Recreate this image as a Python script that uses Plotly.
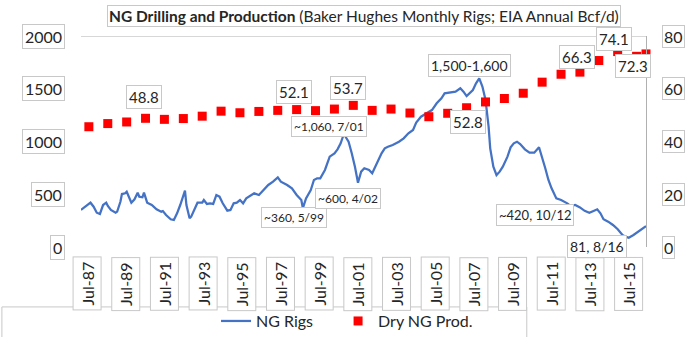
import plotly.graph_objects as go
import pandas as pd

# ---------------- data ----------------
rig_months = [
    "1987-08", "1987-12", "1988-02", "1988-04", "1988-06", "1988-08", "1988-10", "1988-12",
    "1989-01", "1989-03", "1989-06", "1989-07", "1989-09", "1989-10", "1989-12", "1990-01",
    "1990-04", "1990-06", "1990-08", "1990-09", "1990-11", "1990-12", "1991-02", "1991-05",
    "1991-08", "1991-11", "1991-12", "1992-02", "1992-05", "1992-07", "1992-09", "1992-11",
    "1993-02", "1993-03", "1993-05", "1993-06", "1993-08", "1993-10", "1994-01", "1994-02",
    "1994-04", "1994-06", "1994-08", "1994-10", "1994-12", "1995-02", "1995-05", "1995-07",
    "1995-09", "1995-11", "1996-01", "1996-03", "1996-05", "1996-07", "1996-10", "1997-01",
    "1997-04", "1997-07", "1997-10", "1998-01", "1998-03", "1998-07", "1998-10", "1999-01",
    "1999-04", "1999-05", "1999-07", "1999-10", "1999-12", "2000-02", "2000-04", "2000-07",
    "2000-10", "2001-01", "2001-03", "2001-05", "2001-07", "2001-10", "2001-12", "2002-02",
    "2002-04", "2002-06", "2002-08", "2002-11", "2003-01", "2003-03", "2003-05", "2003-07",
    "2003-09", "2003-11", "2004-02", "2004-06", "2004-09", "2004-12", "2005-03", "2005-05",
    "2005-08", "2005-12", "2006-03", "2006-06", "2006-09", "2006-11", "2007-02", "2007-06",
    "2007-09", "2007-11", "2008-01", "2008-03", "2008-05", "2008-07", "2008-09", "2008-11",
    "2009-01", "2009-03", "2009-04", "2009-06", "2009-08", "2009-10", "2009-12", "2010-03",
    "2010-05", "2010-07", "2010-09", "2010-11", "2011-02", "2011-05", "2011-08", "2011-11",
    "2012-01", "2012-03", "2012-05", "2012-07", "2012-10", "2013-01", "2013-05", "2013-07",
    "2013-10", "2014-01", "2014-04", "2014-07", "2014-10", "2014-12", "2015-02", "2015-04",
    "2015-07", "2015-10", "2016-01", "2016-04", "2016-06", "2016-08", "2016-11", "2017-02",
    "2017-06", "2017-07",
]
rig_counts = [
    351, 398, 420, 382, 325, 313, 398, 420,
    389, 351, 325, 335, 429, 502, 509, 524,
    420, 452, 515, 477, 471, 515, 420, 398,
    357, 335, 341, 303, 263, 256, 319, 398,
    534, 398, 272, 287, 351, 420, 420, 445,
    408, 414, 408, 493, 477, 414, 344, 351,
    414, 420, 445, 414, 461, 483, 509, 493,
    540, 588, 619, 660, 619, 588, 556, 493,
    445, 368, 461, 540, 635, 651, 651, 730,
    856, 888, 926, 983, 1071, 998, 888, 761,
    609, 714, 746, 730, 699, 761, 809, 888,
    935, 951, 967, 998, 1030, 1078, 1110, 1180,
    1235, 1267, 1298, 1362, 1410, 1457, 1464, 1473,
    1504, 1473, 1431, 1464, 1488, 1551, 1599, 1521,
    1393, 1140, 935, 761, 682, 714, 761, 856,
    945, 983, 998, 976, 926, 894, 894, 945,
    856, 746, 635, 556, 461, 445, 414, 390,
    398, 375, 343, 325, 344, 357, 319, 263,
    240, 209, 168, 114, 98, 88, 114, 145,
    192, 198,
]

prod_years = list(range(1987, 2018))
prod_bcfd = [
    45.6, 46.8, 47.4, 48.8, 48.4, 48.7, 49.6, 51.5, 50.9, 51.4,
    51.8, 52.1, 51.7, 52.3, 53.7, 51.8, 52.3, 50.8, 49.4, 50.7,
    52.8, 55.0, 56.3, 58.3, 62.5, 65.5, 66.3, 70.7, 74.1, 72.3,
    73.2,
]
# annual values plotted at year end (2017 is a partial year, plotted at the last month)
prod_dates = [f"{y}-12-31" for y in prod_years[:-1]] + ["2017-07-01"]

prod_labels = {1990: "48.8", 1998: "52.1", 2001: "53.7", 2007: "52.8",
               2013: "66.3", 2015: "74.1", 2016: "72.3"}

rig_notes = [
    ("1999-05", "~360, 5/99"),
    ("2002-04", "~600, 4/02"),
    ("2001-07", "~1,060, 7/01"),
    ("2008-09", "1,500-1,600"),
    ("2012-10", "~420, 10/12"),
    ("2016-08", "81, 8/16"),
]

x_tick_labels = ["Jul-87", "Jul-89", "Jul-91", "Jul-93", "Jul-95", "Jul-97", "Jul-99",
                 "Jul-01", "Jul-03", "Jul-05", "Jul-07", "Jul-09", "Jul-11", "Jul-13", "Jul-15"]
left_ticks = [0, 500, 1000, 1500, 2000]
right_ticks = [0, 20, 40, 60, 80]

# ---------------- styling ----------------
FONT = "Lato"
TXT = "#262626"
BOX = "#c8c8c8"
BLUE = "#4472C4"
RED = "#FF0000"

x_start = pd.Timestamp("1987-08-01")
x_end = pd.Timestamp("2017-07-01")

fig = go.Figure()
fig.add_trace(go.Scatter(
    x=[pd.Timestamp(m + "-01") for m in rig_months], y=rig_counts,
    mode="lines", name="NG Rigs", line=dict(color=BLUE, width=2.25),
    yaxis="y", legend="legend",
))
fig.add_trace(go.Scatter(
    x=pd.to_datetime(prod_dates), y=prod_bcfd, mode="markers", name="Dry NG Prod.",
    marker=dict(symbol="square", size=9, color=RED), yaxis="y2", cliponaxis=False,
    legend="legend2",
))

ann = []
# title
ann.append(dict(
    text="<b>NG Drilling and Production</b> (Baker Hughes Monthly Rigs; EIA Annual Bcf/d)",
    xref="paper", yref="paper", x=0.501, y=1.097, xanchor="center", yanchor="middle",
    showarrow=False, font=dict(family=FONT, size=15.5, color=TXT),
    bordercolor=BOX, borderwidth=1, borderpad=1, bgcolor="white"))

# y-axis labels (boxed)
for v in left_ticks:
    ann.append(dict(text=str(v), xref="paper", yref="y", x=-0.0283, y=v,
                    xanchor="right", yanchor="middle", showarrow=False,
                    font=dict(family=FONT, size=16, color=TXT),
                    bordercolor=BOX, borderwidth=1, borderpad=2, bgcolor="white"))
for v in right_ticks:
    ann.append(dict(text=str(v), xref="paper", yref="y2", x=1.0283, y=v,
                    xanchor="left", yanchor="middle", showarrow=False,
                    font=dict(family=FONT, size=16, color=TXT),
                    bordercolor=BOX, borderwidth=1, borderpad=1, bgcolor="white"))

# x-axis labels (boxed, rotated)
span = x_end - x_start
for k, lab in enumerate(x_tick_labels):
    xpos = x_start + span * (0.0115 + 0.06846 * k)
    ann.append(dict(text=lab, xref="x", yref="paper", x=xpos, y=-0.047,
                    xanchor="center", yanchor="top", textangle=-90, showarrow=False,
                    font=dict(family=FONT, size=16, color=TXT),
                    bordercolor=BOX, borderwidth=1, borderpad=4, bgcolor="white"))

# production data labels
prod_shift = {1990: (-2, 21), 1998: (-3, 18), 2001: (-5, 17), 2007: (1, -14),
              2013: (-3, 15), 2015: (-4, 13), 2016: (-4, -10)}
for y, d, v in zip(prod_years, prod_dates, prod_bcfd):
    if y in prod_labels:
        dx, dy = prod_shift[y]
        ann.append(dict(text=prod_labels[y], xref="x", yref="y2", x=pd.Timestamp(d), y=v,
                        xshift=dx, yshift=dy, showarrow=False,
                        font=dict(family=FONT, size=15, color=TXT),
                        bordercolor=BOX, borderwidth=1, borderpad=2, bgcolor="white"))

# rig annotations
rig_lookup = dict(zip(rig_months, rig_counts))
note_style = {
    "~360, 5/99": (-9, -9, 12),
    "~600, 4/02": (-10, -16, 12),
    "~1,060, 7/01": (-15, 8, 12),
    "1,500-1,600": (-10, 13, 14),
    "~420, 10/12": (-21, -17, 13),
    "81, 8/16": (-32, -9, 14),
}
for m, txt in rig_notes:
    dx, dy, fs = note_style[txt]
    ann.append(dict(text=txt, xref="x", yref="y", x=pd.Timestamp(m + "-01"), y=rig_lookup[m],
                    xshift=dx, yshift=dy, showarrow=False,
                    font=dict(family=FONT, size=fs, color=TXT),
                    bordercolor=BOX, borderwidth=1, borderpad=2, bgcolor="white"))

shapes = [
    dict(type="line", xref="paper", yref="y", x0=0, x1=1, y0=2000, y1=2000,
         line=dict(color="#b0b0b0", width=1), layer="below"),
    dict(type="rect", xref="paper", yref="paper", x0=-0.140, x1=0.789, y0=-0.284, y1=-0.46,
         line=dict(color=BOX, width=1), layer="below"),
]

legend_common = dict(orientation="h", y=-0.351, yanchor="middle", xanchor="left",
                     font=dict(family=FONT, size=16, color=TXT), bgcolor="rgba(0,0,0,0)")

fig.update_layout(
    width=685, height=337,
    margin=dict(l=81, r=39, t=36, b=90, autoexpand=False),
    paper_bgcolor="white", plot_bgcolor="white",
    font=dict(family=FONT, color=TXT),
    showlegend=True,
    legend=dict(x=0.239, **legend_common),
    legend2=dict(x=0.455, **legend_common),
    xaxis=dict(type="date", range=[x_start, x_end], showticklabels=False, showgrid=False,
               zeroline=False, showline=False, ticks=""),
    yaxis=dict(range=[0, 2000], showticklabels=False, showgrid=False, zeroline=False,
               showline=False, ticks=""),
    yaxis2=dict(range=[0, 80], overlaying="y", side="right", showticklabels=False,
                showgrid=False, zeroline=False, showline=True, linecolor="#b0b0b0",
                linewidth=1, ticks=""),
    annotations=ann,
    shapes=shapes,
)

# remove the page's default body margin so the figure fills the window exactly
fig.write_html("out.html", config={"displayModeBar": False},
               post_script="document.body.style.margin='0';document.body.style.padding='0';")
